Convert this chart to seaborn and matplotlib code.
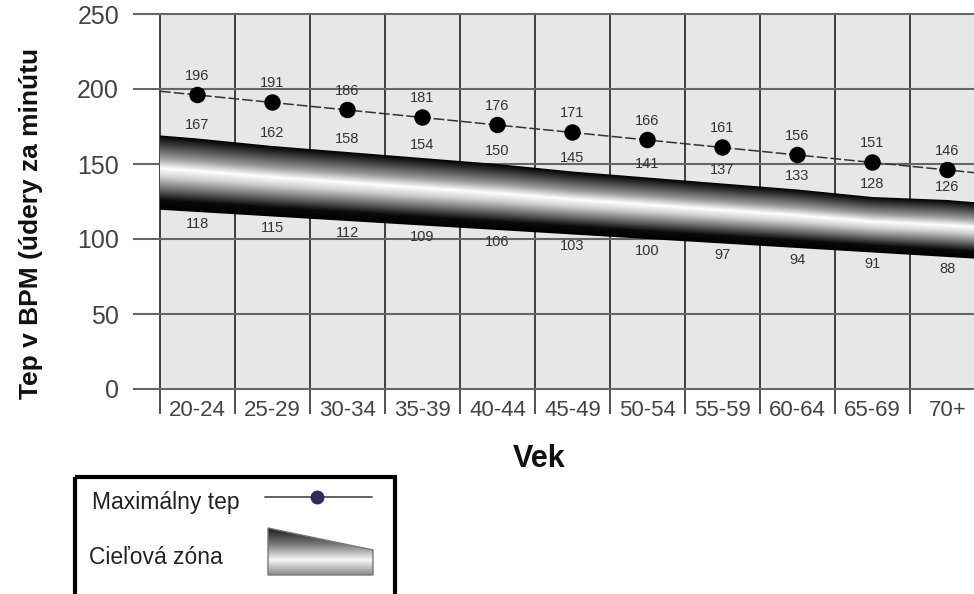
import numpy as np
import matplotlib
matplotlib.use('Agg')
import matplotlib.pyplot as plt
from matplotlib.colors import LinearSegmentedColormap
from matplotlib.patches import Polygon, Rectangle
import seaborn as sns

# values
age_groups = ['20-24', '25-29', '30-34', '35-39', '40-44', '45-49',
              '50-54', '55-59', '60-64', '65-69', '70+']
max_hr = [196, 191, 186, 181, 176, 171, 166, 161, 156, 151, 146]
zone_upper = [167, 162, 158, 154, 150, 145, 141, 137, 133, 128, 126]
zone_lower = [118, 115, 112, 109, 106, 103, 100, 97, 94, 91, 88]
y_ticks = [0, 50, 100, 150, 200, 250]

sns.set_theme(style='white')
plt.rcParams['font.family'] = ['Liberation Sans', 'DejaVu Sans']

fig = plt.figure(figsize=(9.74, 5.94), dpi=100)
ax = fig.add_axes([160/974, 205/594, 814/974, 375/594])
ax.set_facecolor('#e6e7e9')

pos = np.arange(len(age_groups))
# the last bin runs off the right edge of the picture
x0, x1 = -0.5, 10.353


# band edges, carried on to the plot edges along the overall trend
def extend(v):
    v = np.asarray(v, float)
    slope = (v[-1] - v[0]) / (pos[-1] - pos[0])
    xs = np.r_[x0, pos, x1]
    return xs, np.r_[v[0] + slope * (x0 - pos[0]), v, v[-1] + slope * (x1 - pos[-1])]


bx, top = extend(zone_upper)
_, bot = extend(zone_lower)

# tube-like shading across the target zone
tube = LinearSegmentedColormap.from_list('tube', [
    (0, '#000000'), (0.1, '#333333'), (0.3, '#9a9a9a'), (0.44, '#ffffff'),
    (0.56, '#cfcfcf'), (0.75, '#5a5a5a'), (0.87, '#0a0a0a'), (1, '#000000')])
GX, GY = np.meshgrid(np.linspace(x0, x1, 900), np.linspace(0, 250, 900))
t_top = np.interp(GX, bx, top)
t_bot = np.interp(GX, bx, bot)
T = np.clip((t_top - GY) / (t_top - t_bot), 0, 1)
im = ax.imshow(T, cmap=tube, extent=(x0, x1, 0, 250), origin='lower',
               aspect='auto', interpolation='bilinear', zorder=2)
clip = Polygon(np.c_[np.r_[bx, bx[::-1]], np.r_[top, bot[::-1]]],
               closed=True, transform=ax.transData)
im.set_clip_path(clip)

# maximum heart rate
ax.axline((pos[0], max_hr[0]), (pos[-1], max_hr[-1]), color='#333333',
          lw=1.1, ls=(0, (7, 2)), zorder=3)
sns.scatterplot(x=pos, y=max_hr, ax=ax, color='black', s=140,
                edgecolor='none', zorder=4, legend=False)

for i in pos:
    ax.annotate(str(max_hr[i]), (i, max_hr[i]), xytext=(0, 14),
                textcoords='offset points', ha='center', va='center',
                fontsize=10.5, color='#333333')
    ax.annotate(str(zone_upper[i]), (i, zone_upper[i]), xytext=(0, 9.5),
                textcoords='offset points', ha='center', va='center',
                fontsize=10.5, color='#333333')
    ax.annotate(str(zone_lower[i]), (i, zone_lower[i]), xytext=(0, -8.5),
                textcoords='offset points', ha='center', va='center',
                fontsize=10.5, color='#333333')

ax.set_xlim(x0, x1)
ax.set_ylim(0, 250)

# grid: bin edges vertically, labels in bin centres
ax.set_xticks(np.arange(-0.5, len(age_groups) - 1, 1))
ax.set_xticklabels([])
ax.set_xticks(pos, minor=True)
ax.set_xticklabels(age_groups, minor=True)
ax.tick_params(axis='x', which='major', bottom=True, length=18, width=1.2,
               color='#333333', direction='out')
ax.tick_params(axis='x', which='minor', bottom=True, length=0, pad=8,
               labelsize=16, labelcolor='#444444')
ax.set_yticks(y_ticks)
ax.tick_params(axis='y', left=True, length=19.5, width=1.5, color='#666666',
               direction='out', pad=10, labelsize=18, labelcolor='#444444')
ax.grid(True, which='major', axis='x', color='#222222', lw=1.2)
ax.grid(True, which='major', axis='y', color='#666666', lw=1.5)
ax.set_axisbelow(True)
for gl in ax.get_xgridlines() + ax.get_ygridlines():
    gl.set_clip_on(False)
for s in ax.spines.values():
    s.set_visible(False)

fig.text(31/974, 1 - 223/594, 'Tep v BPM (údery za minútu', rotation=90,
         ha='center', va='center', fontsize=19, fontweight='bold', color='#111111')
fig.text(539/974, 1 - 459/594, 'Vek', ha='center', va='center',
         fontsize=22, fontweight='bold', color='#111111')

# hand-made legend box
lax = fig.add_axes([74/974, 0, 322/974, 119/594])
lax.axis('off')
lax.add_patch(Rectangle((75.5, 476.5), 319, 140, fill=False, lw=3,
                        ec='black', clip_on=False))
lax.text(92, 503, 'Maximálny tep', fontsize=16.5, va='center', color='#222222')
lax.plot([265, 372], [497, 497], color='#555555', lw=1.3)
lax.plot([317], [497], 'o', ms=9, color='#2e2b5f')
lax.text(89, 558, 'Cieľová zóna', fontsize=16.5, va='center', color='#222222')

key = LinearSegmentedColormap.from_list('key', [
    (0, '#1a1a1a'), (0.35, '#7a7a7a'), (0.68, '#f7f7f7'), (1, '#8a8a8a')])
kim = lax.imshow(np.linspace(0, 1, 100)[:, None], cmap=key,
                 extent=(268, 373, 575, 528), origin='upper', aspect='auto')
wedge = Polygon([(268, 528), (373, 550), (373, 575), (268, 575)], closed=True,
                fill=False, ec='#777777', lw=1)
lax.add_patch(wedge)
kim.set_clip_path(wedge)
lax.set_xlim(74, 396)
lax.set_ylim(594, 475)

fig.savefig('out.png', dpi=100)
